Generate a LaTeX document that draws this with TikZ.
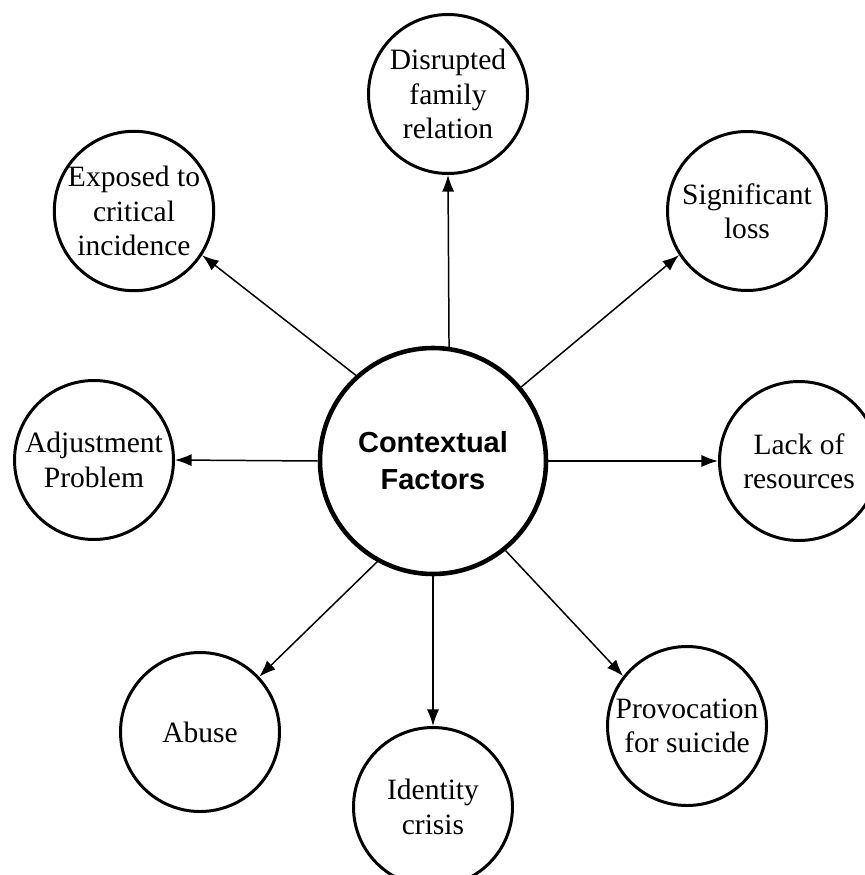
\documentclass[tikz,border=0pt]{standalone}
\usepackage{fontspec}
\setmainfont{Liberation Serif}
\newfontfamily\hubfont{Liberation Sans}
\usetikzlibrary{arrows.meta}

\begin{document}
\begin{tikzpicture}[>={Latex[length=9.5pt,width=7pt]},
  factor/.style={circle,draw,line width=1.7pt,inner sep=0pt,minimum size=3.18cm,align=center,
    font=\fontsize{16.8}{19.6}\selectfont},
  hub/.style={circle,draw,line width=2.6pt,inner sep=0pt,minimum size=4.52cm,align=center,
    font=\hubfont\bfseries\fontsize{16.5}{21}\selectfont},
  link/.style={->,line width=0.85pt}]
  \useasboundingbox (0,0) rectangle (17.28,-17.5);
  % central circle
  \node[hub] (cf) at (8.66,-9.22) {Contextual\\Factors};
  % surrounding factors
  \node[factor] (dis) at (8.96,-1.88) {Disrupted\\family\\relation};
  \node[factor] (sig) at (14.94,-4.22) {Significant\\loss};
  \node[factor] (exp) at (2.68,-4.22) {Exposed to\\critical\\incidence};
  \node[factor] (adj) at (1.88,-9.2) {Adjustment\\Problem};
  \node[factor] (lack) at (15.98,-9.22) {Lack of\\resources};
  \node[factor] (abu) at (4.0,-14.64) {Abuse};
  \node[factor] (ide) at (8.66,-16.14) {Identity\\crisis};
  \node[factor] (pro) at (13.74,-14.52) {Provocation\\for suicide};
  % arrows out of the hub
  \draw[link] (cf.82) -- (dis.south);
  \draw[link] (cf.40) -- (sig.213);
  \draw[link] (cf.132) -- (exp.327);
  \draw[link] (cf.west) -- (adj.east);
  \draw[link] (cf.east) -- (lack.west);
  \draw[link] (cf.241) -- (abu.43);
  \draw[link] (cf.south) -- (ide.north);
  \draw[link] (cf.309) -- (pro.142);
\end{tikzpicture}
\end{document}
